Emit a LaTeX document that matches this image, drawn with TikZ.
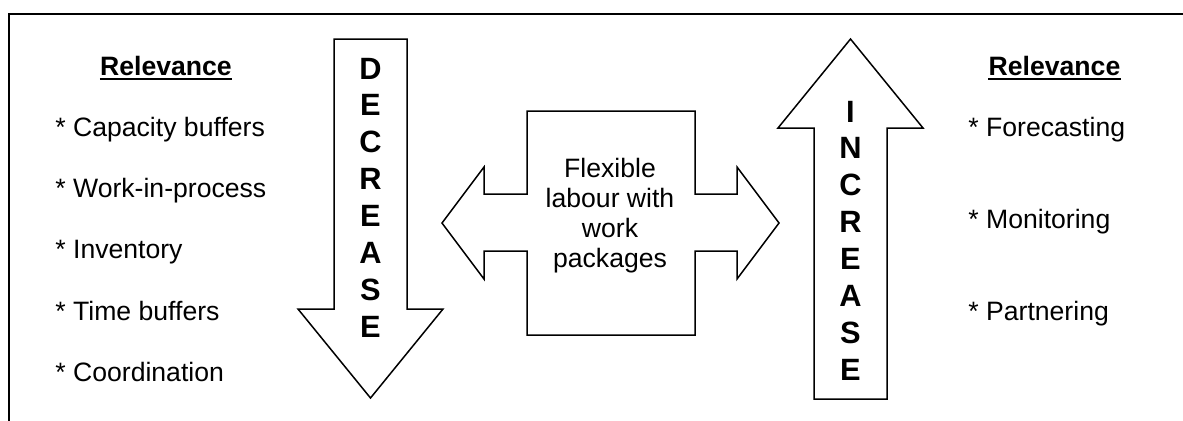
\documentclass[tikz,border=0pt]{standalone}
\usepackage{fontspec}
\setmainfont{Liberation Sans}
\begin{document}
\begin{tikzpicture}[x=0.5pt,y=-0.5pt,
  txt/.style={inner sep=0pt, font=\fontsize{13.3}{15}\selectfont},
  item/.style={txt, anchor=base west},
  headtxt/.style={inner sep=0pt, anchor=base, font=\fontsize{13.3}{15}\selectfont\bfseries},
  letter/.style={inner sep=0pt, anchor=base, font=\fontsize{15.4}{18}\selectfont\bfseries},
  outline/.style={draw, line width=0.75pt, line join=miter},
  frame/.style={draw, line width=1.2pt},
  uline/.style={draw, line width=0.8pt}]
\useasboundingbox (0,0) rectangle (1183,420);
\draw[frame] (9,430) -- (9,14) -- (1195,14);

% Decrease arrow
\draw[outline] (334,39) -- (407,39) -- (407,309) -- (443,309) -- (370.5,398)
  -- (298,309) -- (334,309) -- cycle;
\foreach \L [count=\i] in {D,E,C,R,E,A,S,E}
  \node[letter] (dec\i) at (370.5,{79+36.9*(\i-1)}) {\L};

% Increase arrow
\draw[outline] (850.5,39) -- (923,128) -- (887,128) -- (887,399) -- (814,399)
  -- (814,128) -- (778,128) -- cycle;
\foreach \L [count=\i] in {I,N,C,R,E,A,S,E}
  \node[letter] (inc\i) at (850.5,{122+36.9*(\i-1)}) {\L};

% Central double arrow
\draw[outline] (527,111) -- (695,111) -- (695,194) -- (737,194) -- (737,167)
  -- (779,223) -- (737,279) -- (737,251) -- (695,251) -- (695,335)
  -- (527,335) -- (527,251) -- (484,251) -- (484,279) -- (442,223)
  -- (484,167) -- (484,194) -- (527,194) -- cycle;
\node[txt, align=center] (flex) at (610,215.5)
  {Flexible\\labour with\\work\\packages};

% Left list
\node[headtxt] (relL) at (166,75) {Relevance};
\draw[uline] ([yshift=-2pt]relL.base west) -- ([yshift=-2pt]relL.base east);
\node[item] (l1) at (55,136) {* Capacity buffers};
\node[item] (l2) at (55,197) {* Work-in-process};
\node[item] (l3) at (55,258) {* Inventory};
\node[item] (l4) at (55,320) {* Time buffers};
\node[item] (l5) at (55,381) {* Coordination};

% Right list
\node[headtxt] (relR) at (1054.5,75) {Relevance};
\draw[uline] ([yshift=-2pt]relR.base west) -- ([yshift=-2pt]relR.base east);
\node[item] (r1) at (968,136) {* Forecasting};
\node[item] (r2) at (968,228) {* Monitoring};
\node[item] (r3) at (968,320) {* Partnering};
\end{tikzpicture}
\end{document}
